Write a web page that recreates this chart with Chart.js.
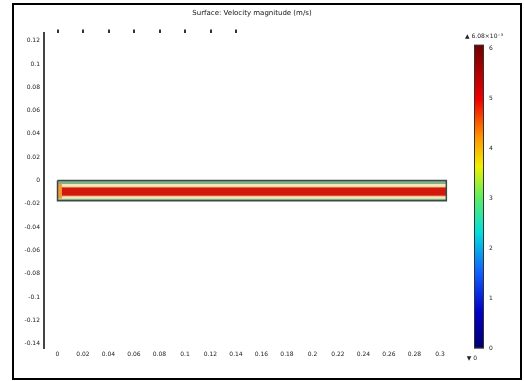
<!DOCTYPE html>
<html>
<head>
<meta charset="utf-8">
<script src="https://cdn.jsdelivr.net/npm/chart.js@4.4.1/dist/chart.umd.min.js"></script>
<style>
  html, body { margin: 0; padding: 0; background: #fff; }
  #wrap { position: relative; width: 524px; height: 381px; overflow: hidden; }
  #chart { position: absolute; left: 0; top: 0; }
  #frame { position: absolute; left: 12px; top: 3px; width: 506px; height: 373px; border: 2px solid #000; pointer-events: none; }
</style>
</head>
<body>
<div id="wrap">
  <canvas id="chart" width="524" height="381"></canvas>
  <div id="frame"></div>
</div>
<script>
// surface plot of a straight channel
const plotTitle = "Surface: Velocity magnitude (m/s)";

// geometry (m)
const channelLength = 0.305;
const channelWalls = [0, -0.0175];
const inletEnd = 0.0035;
const inletEdges = [-0.0031, -0.0155];

// layers across the channel, top wall to bottom wall, and their speed (x10^-3 m/s)
const bandEdges = [0, -0.0031, -0.0052, -0.0058, -0.0132, -0.0138, -0.0155, -0.0175];
const bandSpeed = [3.0, 3.8, 4.5, 5.3, 4.5, 3.8, 3.0];
const inletSpeed = 4.5;

// colour range
const speedMin = 0;
const speedMax = 6.08;

// axes
const xRange = [-0.0106, 0.3157];
const yRange = [-0.1441, 0.1269];
const xTicks = [0, 0.02, 0.04, 0.06, 0.08, 0.1, 0.12, 0.14, 0.16, 0.18, 0.2, 0.22, 0.24, 0.26, 0.28, 0.3];
const topTicks = [0, 0.02, 0.04, 0.06, 0.08, 0.1, 0.12, 0.14];
const yTicks = [0.12, 0.1, 0.08, 0.06, 0.04, 0.02, 0, -0.02, -0.04, -0.06, -0.08, -0.1, -0.12, -0.14];
const colorbarTicks = [0, 1, 2, 3, 4, 5, 6];
const colorbarTop = 6.324;

// styles
const colormap = [
  [0.0, "#00006e"], [0.12, "#0000c8"], [0.25, "#1060ff"], [0.38, "#00dede"],
  [0.5, "#60ee60"], [0.6, "#f0f000"], [0.7, "#ff9000"], [0.82, "#f00000"], [1.0, "#6e0000"],
];
const surfacePalette = [[3.0, "#83ae8c"], [3.8, "#f1e9b9"], [4.5, "#f19a38"], [5.3, "#d3190c"]];

const hexToRgb = (hex) => {
  hex = hex.replace("#", "");
  return [0, 2, 4].map((i) => parseInt(hex.substring(i, i + 2), 16));
};

const surfaceColor = (v) => {
  if (v <= surfacePalette[0][0]) return surfacePalette[0][1];
  for (let i = 1; i < surfacePalette.length; i++) {
    const a = surfacePalette[i - 1], b = surfacePalette[i];
    if (v <= b[0]) {
      const t = (v - a[0]) / (b[0] - a[0]);
      const ca = hexToRgb(a[1]), cb = hexToRgb(b[1]);
      const c = ca.map((x, k) => Math.round(x + (cb[k] - x) * t));
      return "rgb(" + c.join(",") + ")";
    }
  }
  return surfacePalette[surfacePalette.length - 1][1];
};

const datasets = [];

// inlet block drawn on top of the layers
datasets.push({
  type: "line", data: [{ x: 0, y: inletEdges[0] }, { x: inletEnd, y: inletEdges[0] }],
  borderWidth: 0, borderColor: "transparent", pointRadius: 0, fill: false, order: 1,
});
datasets.push({
  type: "line", data: [{ x: 0, y: inletEdges[1] }, { x: inletEnd, y: inletEdges[1] }],
  borderWidth: 0, borderColor: "transparent", pointRadius: 0, fill: "-1",
  backgroundColor: surfaceColor(inletSpeed), order: 1,
});

// layers, each filled to the edge above
const firstBand = datasets.length;
bandEdges.forEach((y, i) => {
  datasets.push({
    type: "line",
    data: [{ x: 0, y: y }, { x: channelLength, y: y }],
    borderWidth: 0,
    borderColor: "transparent",
    pointRadius: 0,
    fill: i == 0 ? false : "-1",
    backgroundColor: i == 0 ? "transparent" : surfaceColor(bandSpeed[i - 1]),
    order: 3,
  });
});

// channel outline
datasets.push({
  type: "line",
  data: [
    { x: 0, y: channelWalls[0] }, { x: channelLength, y: channelWalls[0] },
    { x: channelLength, y: channelWalls[1] }, { x: 0, y: channelWalls[1] },
    { x: 0, y: channelWalls[0] },
  ],
  borderColor: "#3c4a42",
  borderWidth: 1.5,
  pointRadius: 0,
  fill: false,
  order: 0,
});

const colorbarPlugin = {
  id: "colorbar",
  afterDraw(chart) {
    const s = chart.scales.cb;
    const ctx = chart.ctx;
    const top = s.getPixelForValue(speedMax);
    const bottom = s.getPixelForValue(speedMin);
    const left = s.left + 14;
    const g = ctx.createLinearGradient(0, bottom, 0, top);
    colormap.forEach((c) => g.addColorStop(c[0], c[1]));
    ctx.save();
    ctx.fillStyle = g;
    ctx.fillRect(left, top, 10, bottom - top);
    ctx.strokeStyle = "#333";
    ctx.lineWidth = 1;
    ctx.strokeRect(left + 0.5, top + 0.5, 9, bottom - top - 1);
    ctx.fillStyle = "#222";
    ctx.font = '6px "DejaVu Sans"';
    ctx.textAlign = "center";
    ctx.textBaseline = "middle";
    ctx.fillText("\u25B2 " + speedMax.toFixed(2) + "\u00D710\u207B\u00B3", left + 10, top - 8);
    ctx.fillText("\u25BC " + speedMin, left - 2, bottom + 10);
    ctx.restore();
  },
};

Chart.defaults.font.family = '"DejaVu Sans", sans-serif';
Chart.defaults.color = "#222";

new Chart(document.getElementById("chart"), {
  type: "scatter",
  data: { datasets: datasets },
  options: {
    responsive: false,
    animation: false,
    events: [],
    layout: { padding: { left: 0, right: 4, top: 0, bottom: 4 } },
    plugins: {
      legend: { display: false },
      tooltip: { enabled: false },
      title: {
        display: true,
        text: plotTitle,
        fullSize: false,
        font: { size: 7, weight: "normal" },
        color: "#111",
        padding: { top: 6, bottom: 9.6 },
      },
    },
    scales: {
      x: {
        type: "linear",
        min: xRange[0],
        max: xRange[1],
        afterBuildTicks: (s) => { s.ticks = xTicks.map((v) => ({ value: v })); },
        ticks: { autoSkip: false, maxRotation: 0, padding: 2, font: { size: 6 }, callback: (v) => String(v) },
        grid: { display: false, drawTicks: false },
        border: { display: false },
        afterFit: (s) => { s.height = 15; },
      },
      x2: {
        type: "linear",
        position: "top",
        min: xRange[0],
        max: xRange[1],
        afterBuildTicks: (s) => { s.ticks = topTicks.map((v) => ({ value: v })); },
        ticks: { display: false },
        grid: { display: true, drawOnChartArea: false, drawTicks: true, tickLength: 3, color: "#333", lineWidth: 2 },
        border: { display: false },
        afterFit: (s) => { s.height = 6; },
      },
      y: {
        type: "linear",
        min: yRange[0],
        max: yRange[1],
        afterBuildTicks: (s) => { s.ticks = yTicks.map((v) => ({ value: v })); },
        ticks: { autoSkip: false, padding: 4, font: { size: 6 }, callback: (v) => String(v) },
        grid: { display: false, drawTicks: false },
        border: { display: true, color: "#444", width: 2 },
        afterFit: (s) => { s.width = 44; },
      },
      cb: {
        type: "linear",
        position: "right",
        min: speedMin,
        max: colorbarTop,
        afterBuildTicks: (s) => { s.ticks = colorbarTicks.map((v) => ({ value: v })); },
        ticks: { autoSkip: false, padding: 29, font: { size: 6 }, callback: (v) => String(v) },
        grid: { display: false, drawTicks: false },
        border: { display: false },
        afterFit: (s) => { s.width = 60; },
      },
    },
  },
  plugins: [colorbarPlugin],
});
</script>
</body>
</html>
